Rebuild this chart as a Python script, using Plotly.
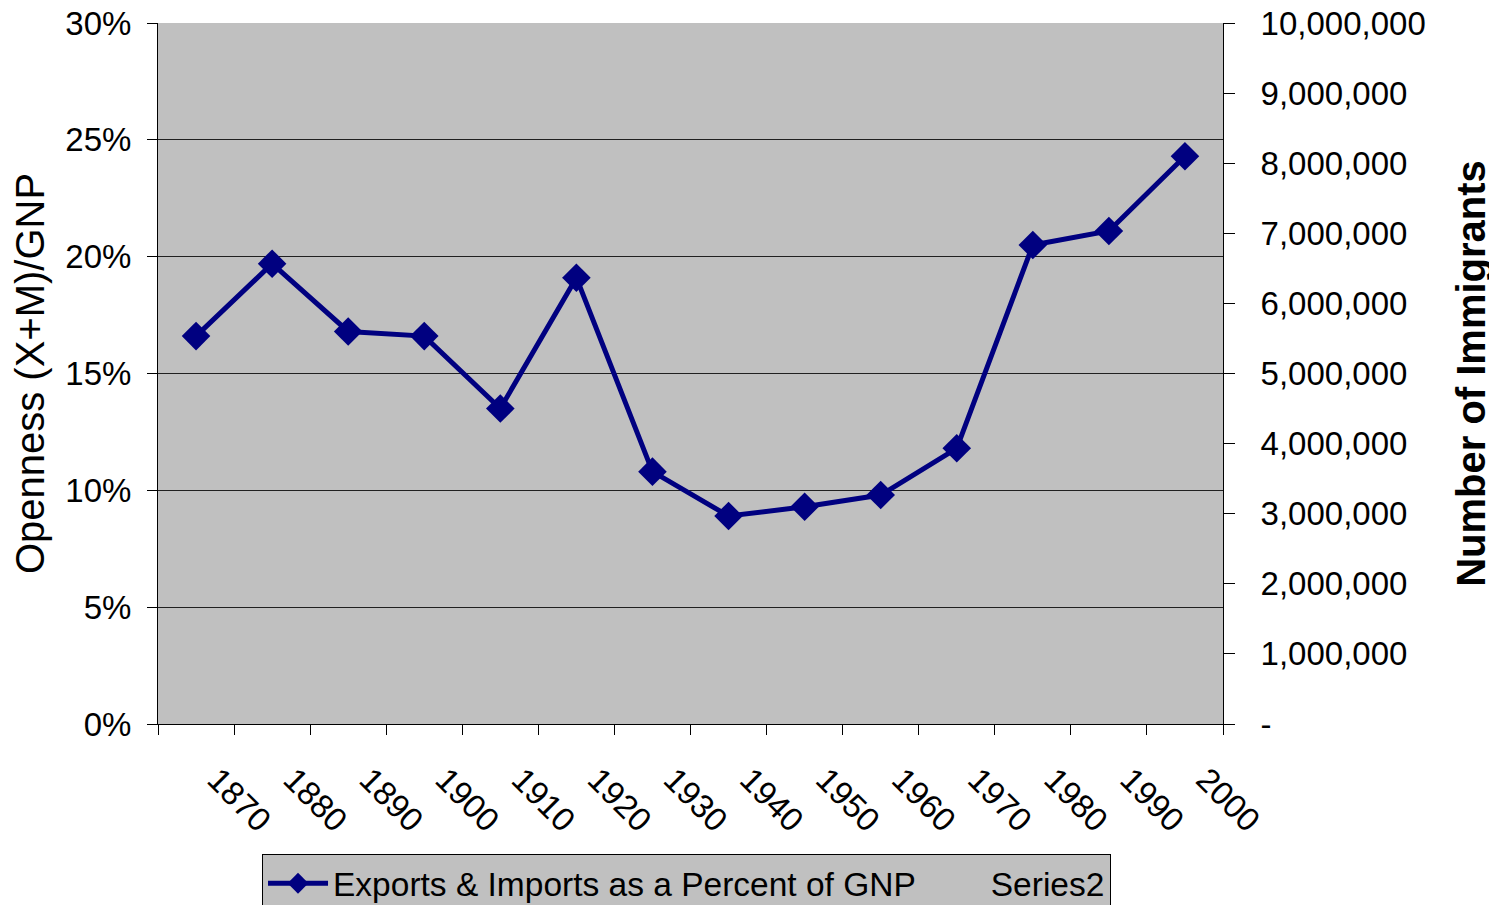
import plotly.graph_objects as go

# data
years = ["1870", "1880", "1890", "1900", "1910", "1920", "1930",
         "1940", "1950", "1960", "1970", "1980", "1990", "2000"]
openness = [0.166, 0.197, 0.168, 0.166, 0.135, 0.191, 0.108,
            0.089, 0.093, 0.098, 0.118, 0.205, 0.211, 0.243]
series2 = [None] * len(years)   # empty in the original chart

pct_ticks = [0, 0.05, 0.10, 0.15, 0.20, 0.25, 0.30]
imm_ticks = [i * 1_000_000 for i in range(11)]
imm_labels = ["-"] + ["{:,}".format(v) for v in imm_ticks[1:]]

NAVY = "#000080"
GREY = "#c0c0c0"
FONT = "Liberation Sans, Arial, sans-serif"

fig = go.Figure()
fig.add_trace(go.Scatter(
    x=years, y=openness, mode="lines+markers",
    name="Exports & Imports as a Percent of GNP",
    line=dict(color=NAVY, width=5),
    marker=dict(symbol="diamond", size=22, color=NAVY)))
fig.add_trace(go.Scatter(
    x=years, y=series2, mode="lines", name="Series2", yaxis="y2",
    line=dict(color="rgba(0,0,0,0)", width=0)))

# page body adds an 8px margin, so the figure is sized to fit the window
fig.update_layout(
    width=1489, height=897,
    margin=dict(l=150, r=274, t=15, b=181, autoexpand=False),
    paper_bgcolor="white", plot_bgcolor=GREY,
    font=dict(family=FONT, size=33, color="black"),
    xaxis=dict(type="category", range=[-0.5, 13.5], tickangle=45,
               tickson="boundaries", ticks="outside", ticklen=10,
               tickcolor="black", showgrid=False, showline=True,
               linecolor="black", linewidth=1, zeroline=False,
               ticklabelstandoff=22, ticklabelshift=21, automargin=False),
    yaxis=dict(range=[0, 0.30], tickvals=pct_ticks, tickformat=".0%",
               ticks="outside", ticklen=10, tickcolor="black",
               ticklabelstandoff=9, automargin=False,
               ticklabeloverflow="allow",
               showgrid=True, gridcolor="#202020", gridwidth=1,
               showline=True, linecolor="black", linewidth=1,
               zeroline=False,
               title=dict(text="Openness (X+M)/GNP", standoff=9)),
    yaxis2=dict(overlaying="y", side="right", range=[0, 10_000_000],
                tickvals=imm_ticks, ticktext=imm_labels,
                ticks="outside", ticklen=11, tickcolor="black",
                ticklabelstandoff=19, automargin=False,
                ticklabeloverflow="allow",
                showgrid=False, showline=True, linecolor="black",
                linewidth=1, zeroline=False,
                title=dict(text="<b>Number of Immigrants</b>", standoff=32)),
    legend=dict(orientation="h", xref="container", yref="container",
                x=0.1706, y=0.0569, xanchor="left", yanchor="top",
                bgcolor=GREY, bordercolor="black", borderwidth=1,
                font=dict(size=33.5), itemwidth=60),
    showlegend=True,
)

fig.write_html("out.html")
